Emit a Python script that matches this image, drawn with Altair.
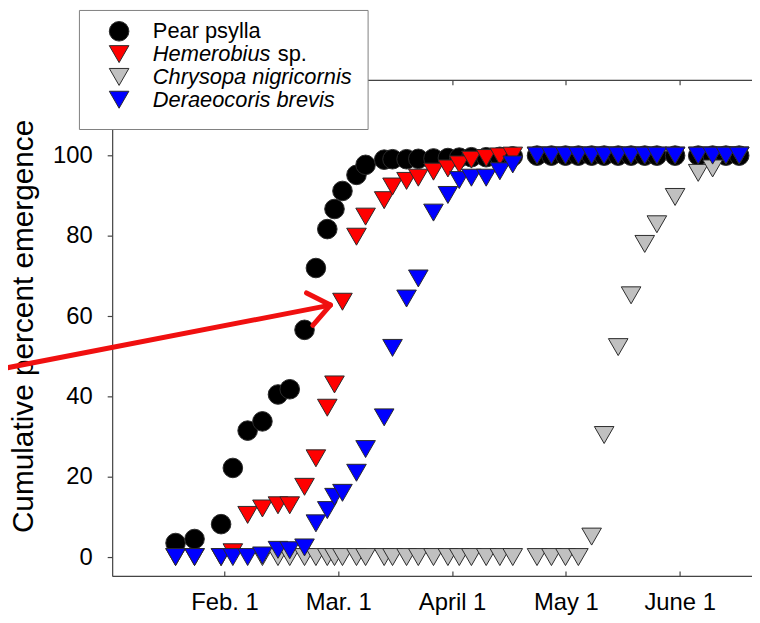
import math
import altair as alt
import pandas as pd

# ---------------- data ----------------
# x = sampling day on a month axis where each month tick is 30 units apart
days = [19.1, 24.1, 31.1, 34.2, 38.1, 42.0, 46.1, 49.2, 53.1, 56.1,
        59.1, 61.0, 63.1, 66.8, 69.2, 74.1, 76.3, 80.0, 83.1, 87.1,
        90.9, 93.9, 97.1, 101.0, 104.6, 108.0, 114.4, 118.2, 121.9, 125.3,
        128.8, 132.1, 135.8, 139.2, 142.8, 146.0, 150.8, 156.9, 160.7, 164.2,
        167.7]

pear_psylla = [3.5, 4.5, 8.2, 22.2, 31.5, 33.8, 40.5, 41.8, 56.6, 72.0,
               81.7, 86.7, 91.2, 95.2, 97.7, 99.0, 99.1, 99.1, 99.2, 99.3,
               99.4, 99.5, 99.6, 99.6, 99.7, 99.8, 100, 100, 100, 100,
               100, 100, 100, 100, 100, 100, 100, 100, 100, 100,
               100]

hemerobius = [0, 0, 0, 1.2, 10.5, 12.1, 12.9, 12.9, 17.5, 24.6,
              37.2, 43.0, 63.6, 79.8, 84.8, 88.9, 92.3, 93.7, 94.5, 96.0,
              96.8, 97.8, 99.0, 99.4, 99.8, 100, 100, 100, 100, 100,
              100, 100, 100, 100, 100, 100, 100, 100, 100, 100,
              100]

chrysopa = [None, None, None, None, None, 0, 0, 0, 0, 0,
            0, 0, 0, 0, 0, 0, 0, 0, 0, 0,
            0, 0, 0, 0, 0, 0, 0, 0, 0, 0,
            5.1, 30.4, 52.3, 65.2, 78.0, 82.9, 89.7, 95.7, 96.8, 100,
            100]

deraeocoris = [0, 0, 0, 0, 0, 0.4, 1.8, 1.7, 2.4, 8.4,
               11.7, 15.0, 16.0, 21.0, 26.9, 34.8, 52.1, 64.4, 69.4, 85.8,
               90.2, 93.9, 94.5, 94.5, 96.1, 97.8, 100, 100, 100, 100,
               100, 100, 100, 100, 100, 100, 100, 100, 100, 100,
               100]

series_names = ["Pear psylla", "Hemerobius sp.", "Chrysopa nigricornis", "Deraeocoris brevis"]
series_values = [pear_psylla, hemerobius, chrysopa, deraeocoris]
series_colors = ["#000000", "#ff0000", "#c0c0c0", "#0000ff"]
series_shapes = ["circle", "triangle-down", "triangle-down", "triangle-down"]
# legend label parts: (italic part, upright part)
legend_parts = [("", "Pear psylla"), ("Hemerobius", "sp."),
                ("Chrysopa nigricornis", ""), ("Deraeocoris brevis", "")]

x_tick_values = [32, 62, 92, 122, 152]
x_tick_labels = ["Feb. 1", "Mar. 1", "April 1", "May 1", "June 1"]
y_tick_values = [0, 20, 40, 60, 80, 100]
y_title = "Cumulative percent emergence"

# ---------------- build table ----------------
rows = []
for k, (name, vals) in enumerate(zip(series_names, series_values)):
    for d, v in zip(days, vals):
        if v is None:
            continue
        rows.append({"day": d, "pct": v, "series": name, "order": k})
df = pd.DataFrame(rows)

FONT = "Liberation Sans"
W, H = 645, 500
x_scale = alt.Scale(domain=[2.38, 171.08], nice=False, zero=False)
y_scale = alt.Scale(domain=[-4.69, 118.86], nice=False, zero=False)

label_expr = " : ".join(
    f"datum.value == {v} ? '{t}'" for v, t in zip(x_tick_values, x_tick_labels)
) + " : ''"

AX = "#444444"

points = alt.Chart(df).mark_point(
    filled=True, size=390, stroke="#2a2a2a", strokeWidth=1, opacity=1
).encode(
    x=alt.X("day:Q", scale=x_scale,
            axis=alt.Axis(values=x_tick_values, labelExpr=label_expr, ticks=False,
                          tickSize=0, domain=True, domainColor=AX, domainWidth=1.2,
                          grid=False, labelFontSize=24, labelFont=FONT,
                          labelColor="#000000", labelPadding=15, title=None)),
    y=alt.Y("pct:Q", scale=y_scale,
            axis=alt.Axis(values=y_tick_values, grid=False, domainColor=AX,
                          domainWidth=1.2, tickColor=AX, tickSize=5, tickWidth=1.2,
                          labelFontSize=24, labelFont=FONT, labelColor="#000000",
                          labelPadding=15, title=y_title, titleFont=FONT,
                          titleFontSize=30, titleFontWeight="normal",
                          titleColor="#000000", titleAngle=270,
                          titleX=-80, titleY=248, titleAlign="center",
                          titleBaseline="alphabetic")),
    shape=alt.Shape("series:N", scale=alt.Scale(domain=series_names, range=series_shapes), legend=None),
    color=alt.Color("series:N", scale=alt.Scale(domain=series_names, range=series_colors), legend=None),
    order=alt.Order("order:Q"),
)

# inward ticks on the bottom edge (top-oriented axis moved down)
bottom_ticks = alt.Chart(df).mark_point(opacity=0).encode(
    x=alt.X("day:Q", scale=x_scale,
            axis=alt.Axis(orient="top", offset=-H, values=x_tick_values, domain=False,
                          labels=False, ticks=True, tickSize=5, tickColor=AX,
                          tickWidth=1.2, grid=False, title=None)),
)
# top frame line with inward ticks (bottom-oriented axis moved up)
top_frame = alt.Chart(df).mark_point(opacity=0).encode(
    x=alt.X("day:Q", scale=x_scale,
            axis=alt.Axis(orient="bottom", offset=-H, values=x_tick_values, domain=True,
                          domainColor=AX, domainWidth=1.2, labels=False, ticks=True,
                          tickSize=5, tickColor=AX, tickWidth=1.2, grid=False, title=None)),
)

one = pd.DataFrame({"a": [0]})

# ---------------- legend (manual, to mix italic and upright) ----------------
leg_layers = []
leg_layers.append(alt.Chart(one).mark_rect(fill="white", stroke="#7f7f7f", strokeWidth=1).encode(
    x=alt.value(-33), x2=alt.value(258), y=alt.value(-70), y2=alt.value(50)))
row_y = [-49, -26, -3, 20]
for i, name in enumerate(series_names):
    leg_layers.append(alt.Chart(one).mark_point(
        filled=True, size=390, shape=series_shapes[i], fill=series_colors[i],
        stroke="#2a2a2a", strokeWidth=1, opacity=1).encode(
        x=alt.value(7), y=alt.value(row_y[i])))
    it, up = legend_parts[i]
    x0 = 41
    if it:
        leg_layers.append(alt.Chart(one).mark_text(
            text=it, align="left", baseline="middle", font=FONT, fontSize=22,
            fontStyle="italic", color="#000000").encode(
            x=alt.value(x0), y=alt.value(row_y[i])))
        x0 += 126
    if up:
        leg_layers.append(alt.Chart(one).mark_text(
            text=up, align="left", baseline="middle", font=FONT, fontSize=22,
            color="#000000").encode(
            x=alt.value(x0), y=alt.value(row_y[i])))

# ---------------- red arrow annotation ----------------
tail = (-115, 292)
tip = (220, 227)
bx, by = tail[0] - tip[0], tail[1] - tip[1]
bl = math.hypot(bx, by)
bx, by = bx / bl, by / bl
arrow_layers = [alt.Chart(one).mark_rule(color="#f01010", strokeWidth=5, strokeCap="round").encode(
    x=alt.value(tail[0]), y=alt.value(tail[1]), x2=alt.value(tip[0]), y2=alt.value(tip[1]))]
for sgn in (1, -1):
    a = math.radians(38) * sgn
    ex = tip[0] + 27 * (bx * math.cos(a) - by * math.sin(a))
    ey = tip[1] + 27 * (bx * math.sin(a) + by * math.cos(a))
    arrow_layers.append(alt.Chart(one).mark_rule(color="#f01010", strokeWidth=5, strokeCap="round").encode(
        x=alt.value(tip[0]), y=alt.value(tip[1]), x2=alt.value(ex), y2=alt.value(ey)))

chart = alt.layer(points, bottom_ticks, top_frame, *leg_layers, *arrow_layers).resolve_axis(
    x="independent"
).properties(
    width=W, height=H,
    autosize=alt.AutoSizeParams(type="none"),
    padding={"left": 105, "top": 70, "right": 0, "bottom": 45},
).configure_view(stroke=None).configure(background="white")

chart.save("out.html", embed_options={"renderer": "svg", "actions": False})
